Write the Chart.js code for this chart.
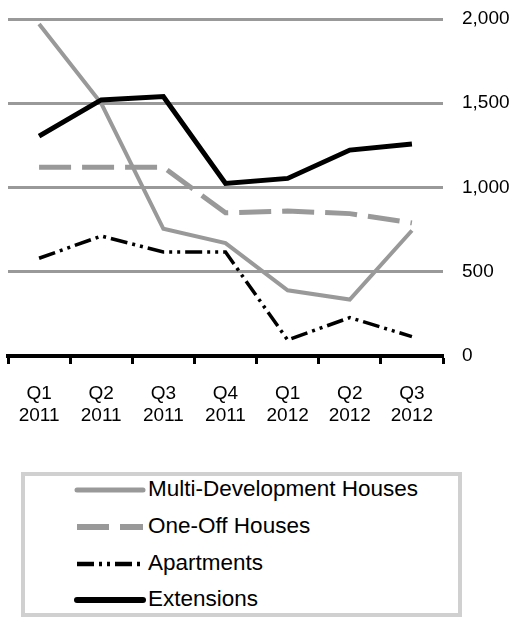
<!DOCTYPE html>
<html>
<head>
<meta charset="utf-8">
<script src="https://cdn.jsdelivr.net/npm/chart.js@4/dist/chart.umd.min.js"></script>
<style>
  html, body { margin: 0; padding: 0; background: #fff; }
  body { width: 514px; height: 619px; position: relative; overflow: hidden; font-family: "Liberation Sans", Arial, sans-serif; }
  #wrap { position: absolute; left: 0; top: 0; width: 514px; height: 440px; }
  #legend { position: absolute; left: 21px; top: 472px; width: 441px; height: 145px; box-sizing: border-box; border: 4px solid #d0d0d0; }
  .row { position: absolute; left: 0; height: 30px; }
  .row svg { position: absolute; left: 49px; top: 0; }
  .row span { position: absolute; left: 123px; top: 1px; font-size: 22.5px; color: #000; white-space: nowrap; line-height: 26px; }
</style>
</head>
<body>
<div id="wrap"><canvas id="chart"></canvas></div>
<div id="legend"></div>
<script>
const quarters = [["Q1", "2011"], ["Q2", "2011"], ["Q3", "2011"], ["Q4", "2011"], ["Q1", "2012"], ["Q2", "2012"], ["Q3", "2012"]];
const multiDevelopment = [1970, 1500, 755, 670, 390, 335, 745];
const oneOff = [1120, 1120, 1120, 850, 860, 845, 790];
const apartments = [580, 712, 617, 617, 95, 228, 115];
const extensions = [1305, 1520, 1540, 1024, 1054, 1222, 1258];
const yTicks = [0, 500, 1000, 1500, 2000];

const seriesStyle = [
  { label: "Multi-Development Houses", data: multiDevelopment, color: "#999999", width: 4, dash: [], order: 3 },
  { label: "One-Off Houses", data: oneOff, color: "#999999", width: 5, dash: [32, 11], order: 2 },
  { label: "Apartments", data: apartments, color: "#000000", width: 3.5, dash: [17, 5, 3, 5, 3, 5], order: 1 },
  { label: "Extensions", data: extensions, color: "#000000", width: 5, dash: [], order: 0 },
];

const font = { family: "'Liberation Sans', Arial, sans-serif", size: 19 };

new Chart(document.getElementById("chart"), {
  type: "line",
  data: {
    labels: quarters,
    datasets: seriesStyle.map((s) => ({
      label: s.label,
      data: s.data,
      borderColor: s.color,
      backgroundColor: s.color,
      borderWidth: s.width,
      borderDash: s.dash,
      order: s.order,
      tension: 0,
      pointRadius: 0,
      fill: false,
    })),
  },
  options: {
    responsive: true,
    maintainAspectRatio: false,
    animation: false,
    layout: { padding: { left: 8, right: 0, top: 19, bottom: 14 } },
    plugins: { legend: { display: false }, tooltip: { enabled: false } },
    scales: {
      x: {
        offset: true,
        afterFit: (s) => { s.height = 70; },
        grid: { offset: true, drawOnChartArea: false, drawTicks: true, tickLength: 8, tickColor: "#000", tickWidth: 3 },
        border: { display: true, color: "#000", width: 4 },
        ticks: { color: "#000", font: font, padding: 18, maxRotation: 0, autoSkip: false },
      },
      y: {
        position: "right",
        min: yTicks[0],
        max: yTicks[yTicks.length - 1],
        afterFit: (s) => { s.width = 71; s.paddingTop = 0; s.paddingBottom = 0; },
        afterBuildTicks: (s) => { s.ticks = yTicks.map((v) => ({ value: v })); },
        grid: {
          drawTicks: false,
          lineWidth: 3,
          color: (ctx) => (ctx.tick && ctx.tick.value === 0 ? "rgba(0,0,0,0)" : "#999999"),
        },
        border: { display: false },
        ticks: {
          color: "#000",
          font: font,
          padding: 19,
          callback: (v) => v.toLocaleString("en-US"),
        },
      },
    },
  },
});

// legend
const legend = document.getElementById("legend");
const rowTops = [0, 37, 74, 110];
seriesStyle.forEach((s, i) => {
  const row = document.createElement("div");
  row.className = "row";
  row.style.top = (rowTops[i] - 1) + "px";
  const lw = s.width + 1;
  const cap = s.dash.length ? "butt" : "round";
  row.innerHTML =
    '<svg width="72" height="30"><line x1="3" y1="15" x2="69" y2="15" stroke="' + s.color +
    '" stroke-width="' + lw + '" stroke-linecap="' + cap + '" stroke-dasharray="' +
    (s.dash.length ? s.dash.join(",") : "none") + '"/></svg><span>' + s.label + "</span>";
  legend.appendChild(row);
});
</script>
</body>
</html>
